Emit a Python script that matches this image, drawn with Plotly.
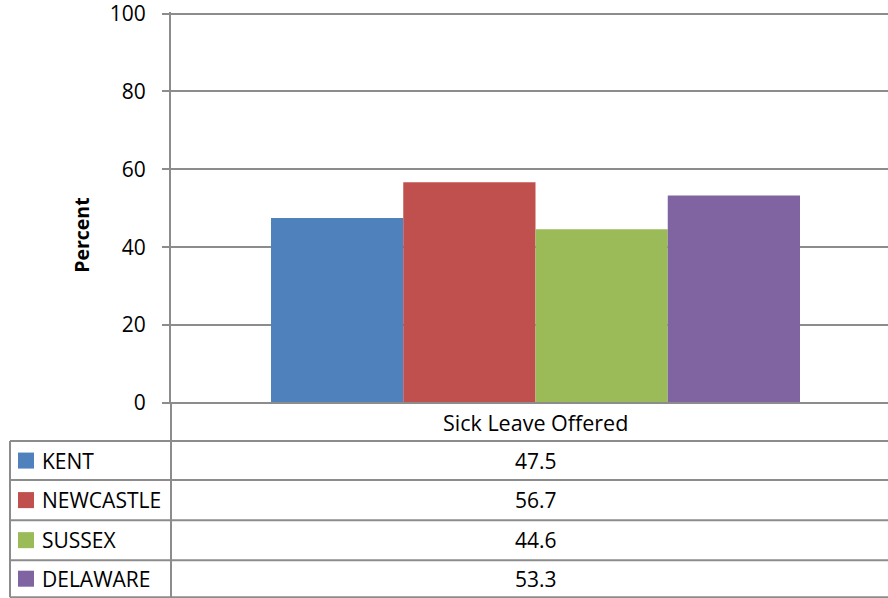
import plotly.graph_objects as go

categories = ["Sick Leave Offered"]
series_names = ["KENT", "NEWCASTLE", "SUSSEX", "DELAWARE"]
series_values = [47.5, 56.7, 44.6, 53.3]
series_colors = ["#4F81BD", "#C0504D", "#9BBB59", "#8064A2"]
y_ticks = [0, 20, 40, 60, 80, 100]

W, H = 888, 598
L, R = 171, 888          # plot area pixel x-range
B = 403                  # pixel y of value 0
UNIT = 3.89              # pixels per percent
Y_MAX = 100.4
T = B - UNIT * Y_MAX
cat_px = 729.0           # pixel width of one category slot
FONT = "Open Sans"
GRID = "#8C8C8C"

def px(xp):
    return (xp - L) / (R - L)

def py(yp):
    return (B - yp) / (B - T)

fig = go.Figure()
for name, val, col in zip(series_names, series_values, series_colors):
    fig.add_trace(go.Bar(x=categories, y=[val], name=name, marker_color=col,
                         marker_line_width=0, showlegend=False))

x_right = -0.5 + (R - L) / cat_px

fig.update_layout(
    width=W, height=H,
    margin=dict(l=L, r=W - R, t=T, b=H - B, pad=0),
    paper_bgcolor="white", plot_bgcolor="white",
    barmode="group", bargap=1 - 529 / cat_px, bargroupgap=0,
    font=dict(family=FONT, color="#000000"),
    xaxis=dict(range=[-0.5, x_right], showticklabels=False, showgrid=False,
               zeroline=False, showline=False, ticks=""),
    yaxis=dict(range=[0, Y_MAX], tickvals=y_ticks, showgrid=True, gridcolor=GRID,
               gridwidth=2, zeroline=False, showline=True, linecolor=GRID,
               linewidth=2, ticks="outside", ticklen=7, tickcolor=GRID,
               tickwidth=2, tickfont=dict(size=21, family=FONT, color="#000"),
               ticklabelstandoff=12, ticklabeloverflow="allow"),
)

shapes = []
row_edges = [441, 480, 520, 560, 597]
# x axis / zero line
shapes.append(dict(type="line", xref="paper", yref="paper", x0=px(164), x1=1,
                   y0=py(403), y1=py(403), line=dict(color=GRID, width=2)))
for ye in row_edges:
    shapes.append(dict(type="line", xref="paper", yref="paper", x0=px(10), x1=1,
                       y0=py(ye), y1=py(ye), line=dict(color=GRID, width=2)))
# vertical lines: extended axis and left table border
shapes.append(dict(type="line", xref="paper", yref="paper", x0=0, x1=0,
                   y0=py(403), y1=py(597), line=dict(color=GRID, width=2)))
shapes.append(dict(type="line", xref="paper", yref="paper", x0=px(10), x1=px(10),
                   y0=py(441), y1=py(597), line=dict(color=GRID, width=2)))

annotations = []
annotations.append(dict(text="<b>Percent</b>", textangle=-90, xref="paper", yref="paper",
                        x=px(82), y=py(236), showarrow=False,
                        font=dict(size=19.5, family=FONT, color="#000"),
                        xanchor="center", yanchor="middle"))
annotations.append(dict(text=categories[0], xref="x", yref="paper",
                        x=categories[0], y=py(422), showarrow=False,
                        font=dict(size=21.5, family=FONT, color="#000"),
                        xanchor="center", yanchor="middle"))
for i, (name, val, col) in enumerate(zip(series_names, series_values, series_colors)):
    yc = (row_edges[i] + row_edges[i + 1]) / 2
    shapes.append(dict(type="rect", xref="paper", yref="paper",
                       x0=px(18), x1=px(34), y0=py(yc - 8), y1=py(yc + 8),
                       fillcolor=col, line=dict(width=0)))
    annotations.append(dict(text=name, xref="paper", yref="paper", x=px(40),
                            y=py(yc), showarrow=False, xanchor="left",
                            yanchor="middle",
                            font=dict(size=21, family=FONT, color="#000")))
    annotations.append(dict(text=f"{val:.1f}", xref="x", yref="paper",
                            x=categories[0], y=py(yc), showarrow=False,
                            xanchor="center", yanchor="middle",
                            font=dict(size=21, family=FONT, color="#000")))

fig.update_layout(shapes=shapes, annotations=annotations)
fig.write_html("out.html", config={"displayModeBar": False},
               post_script="document.body.style.margin='0';document.body.style.overflow='hidden';")
